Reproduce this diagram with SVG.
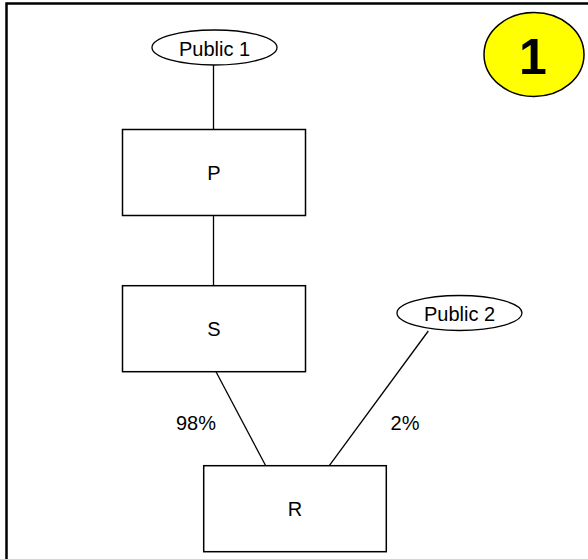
<svg xmlns="http://www.w3.org/2000/svg" width="588" height="559" viewBox="0 0 588 559">
<style>
.box{fill:#fff;stroke:#000;stroke-width:1.5}
.ell{fill:#fff;stroke:#000;stroke-width:1.3}
.ln{stroke:#000;stroke-width:1.3;fill:none}
.t{font-family:"Liberation Sans",Arial,sans-serif;font-size:20px;fill:#000;text-anchor:middle}
</style>
<rect x="0" y="0" width="588" height="559" fill="#fff"/>
<path d="M6.5 559 V3.5 H588" fill="none" stroke="#000" stroke-width="2.5"/>
<g id="connectors">
<line class="ln" x1="213.5" y1="65" x2="213.5" y2="129.5"/>
<line class="ln" x1="213.5" y1="215.5" x2="213.5" y2="285.7"/>
<line class="ln" x1="216" y1="371.7" x2="265.7" y2="465.7"/>
<line class="ln" x1="428.3" y1="331" x2="329.3" y2="465.7"/>
<text class="t" x="196" y="430">98%</text>
<text class="t" x="405" y="430">2%</text>
</g>
<g id="public1">
<ellipse class="ell" cx="214.5" cy="47.5" rx="62.5" ry="17.5"/>
<text class="t" x="214.5" y="56">Public 1</text>
</g>
<g id="P">
<rect class="box" x="122.5" y="129.5" width="183" height="86"/>
<text class="t" x="214" y="179.5">P</text>
</g>
<g id="S">
<rect class="box" x="122.5" y="285.7" width="183" height="86"/>
<text class="t" x="214" y="336">S</text>
</g>
<g id="public2">
<ellipse class="ell" cx="459.5" cy="313" rx="62.5" ry="17.5"/>
<text class="t" x="459.5" y="321">Public 2</text>
</g>
<g id="R">
<rect class="box" x="203.7" y="465.7" width="182.6" height="86"/>
<text class="t" x="295" y="515.5">R</text>
</g>
<g id="badge">
<ellipse cx="534" cy="54.5" rx="50" ry="42" fill="#ffff00" stroke="#000" stroke-width="1.5"/>
<text x="533" y="74" font-family="'Liberation Sans',Arial,sans-serif" font-size="50" font-weight="bold" text-anchor="middle">1</text>
</g>
</svg>
